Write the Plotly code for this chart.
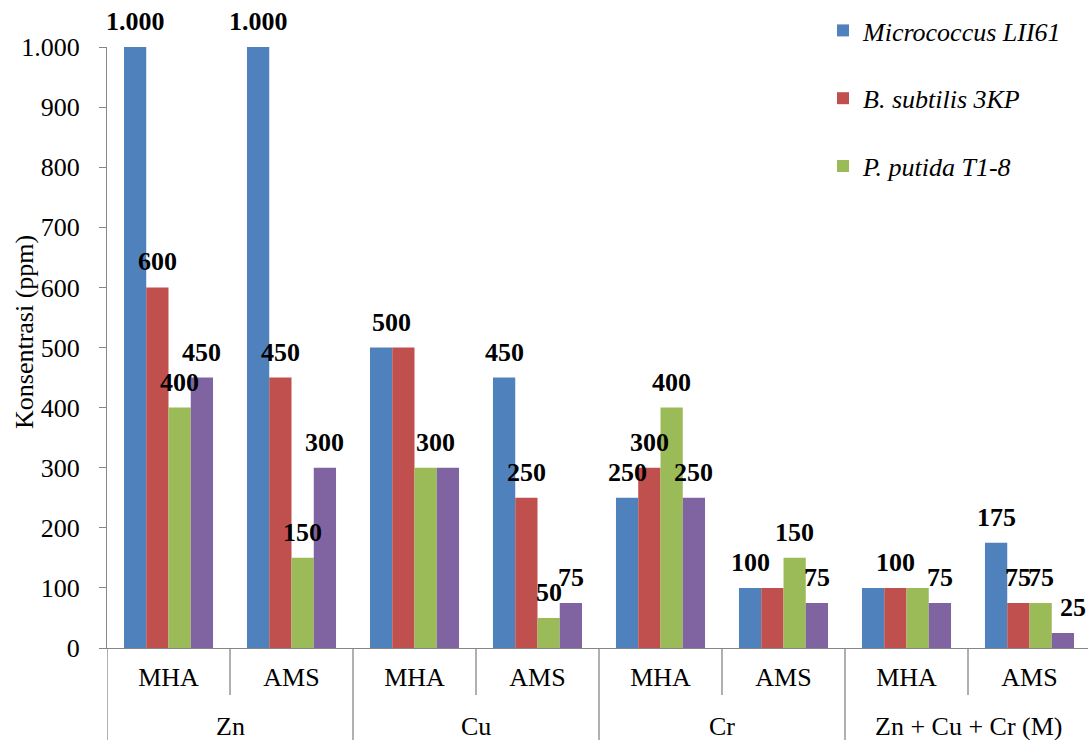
import plotly.graph_objects as go

# Metal treatments (outer level) and growth media (inner level)
groups = ["Zn", "Cu", "Cr", "Zn + Cu + Cr (M)"]
media = ["MHA", "AMS", "MHA", "AMS", "MHA", "AMS", "MHA", "AMS"]

series_names = ["Micrococcus LII61", "B. subtilis 3KP", "P. putida T1-8", "Seri 4"]
micrococcus = [1000, 1000, 500, 450, 250, 100, 100, 175]
b_subtilis = [600, 450, 500, 250, 300, 100, 100, 75]
p_putida = [400, 150, 300, 50, 400, 150, 100, 75]
seri4 = [450, 300, 300, 75, 250, 75, 75, 25]
series_values = [micrococcus, b_subtilis, p_putida, seri4]
colors = ["#4F81BD", "#C0504D", "#9BBB59", "#8064A2"]
show_in_legend = [True, True, True, False]

FONT = "Liberation Serif, Times New Roman, serif"
FS = 26
BARGAP = 0.276
AXIS_GRAY = "#868686"

# label placement tweaks: (series, category) -> horizontal shift in bar widths,
# None hides a label that would sit on top of a neighbour
label_shift = {
    (0, 2): 0.45, (1, 2): None, (2, 2): 0.45, (3, 2): None,
    (1, 5): None,
    (0, 6): None, (2, 6): None,
    (3, 7): 0.45,
}

x_pos = list(range(len(media)))
n_series = len(series_values)
bar_w = (1 - BARGAP) / n_series

fig = go.Figure()
for j, (name, vals) in enumerate(zip(series_names, series_values)):
    fig.add_trace(go.Bar(
        x=x_pos, y=vals, name=name, marker_color=colors[j],
        marker_line_width=0, showlegend=show_in_legend[j],
        legendgroup=name,
    ))


def fmt(v):
    return f"{v:,}".replace(",", ".")


annotations = []
for j, vals in enumerate(series_values):
    for i, v in enumerate(vals):
        shift = label_shift.get((j, i), 0.0)
        if shift is None:
            continue
        xc = i + bar_w * (j - (n_series - 1) / 2 + shift)
        annotations.append(dict(
            x=xc, y=v, xref="x", yref="y", text=f"<b>{fmt(v)}</b>",
            showarrow=False, yanchor="bottom", xanchor="center", yshift=9,
            font=dict(family=FONT, size=FS, color="black", weight="bold"),
        ))

# plot-area geometry in pixels
W, H = 1088, 740
ML, MR, MT, MB = 107, 0, 47, 92
plot_h = H - MT - MB
plot_w = W - ML - MR
x_range = [-0.5, -0.5 + plot_w / 123.0]


def py(px):
    # pixel row -> paper y
    return (H - MB - px) / plot_h


# outer category labels
for k, g in enumerate(groups):
    annotations.append(dict(
        x=2 * k + 0.5, y=py(727), xref="x", yref="paper", text=g,
        showarrow=False, yanchor="middle", xanchor="center",
        font=dict(family=FONT, size=FS, color="black"),
    ))

# y-axis title
annotations.append(dict(
    x=(24 - ML) / plot_w, y=py(332), xref="paper", yref="paper",
    text="Konsentrasi (ppm)", textangle=-90, showarrow=False,
    xanchor="center", yanchor="middle",
    font=dict(family=FONT, size=FS, color="black"),
))

# category separators below the x axis
shapes = []
for b in range(len(media)):
    edge = b - 0.5
    outer = b % 2 == 0
    shapes.append(dict(
        type="line", xref="x", yref="paper", x0=edge, x1=edge,
        y0=0, y1=py(760) if outer else py(695),
        line=dict(color=AXIS_GRAY, width=1.3),
    ))

fig.update_layout(
    width=W, height=H,
    margin=dict(l=ML, r=MR, t=MT, b=MB, pad=0),
    plot_bgcolor="white", paper_bgcolor="white",
    barmode="group", bargap=BARGAP, bargroupgap=0,
    separators=",.",
    font=dict(family=FONT, size=FS, color="black"),
    annotations=annotations, shapes=shapes,
    legend=dict(
        x=(823 - ML) / plot_w, y=py(7), xanchor="left", yanchor="top",
        font=dict(family=FONT, size=FS, color="black", style="italic"),
        traceorder="grouped", tracegroupgap=31,
        bgcolor="rgba(0,0,0,0)",
    ),
    xaxis=dict(
        range=x_range, tickvals=x_pos, ticktext=media, ticks="",
        showline=True, linecolor=AXIS_GRAY, linewidth=1.3,
        showgrid=False, zeroline=False,
        tickfont=dict(family=FONT, size=FS, color="black"),
        ticklabelstandoff=6,
    ),
    yaxis=dict(
        range=[0, 1000], tickmode="linear", tick0=0, dtick=100,
        tickformat=",d", ticks="outside", ticklen=7, tickwidth=1.3,
        tickcolor=AXIS_GRAY, showline=True, linecolor=AXIS_GRAY,
        linewidth=1.3, showgrid=False, zeroline=False,
        tickfont=dict(family=FONT, size=FS, color="black"),
        ticklabelstandoff=14,
    ),
)

fig.write_html("out.html")
